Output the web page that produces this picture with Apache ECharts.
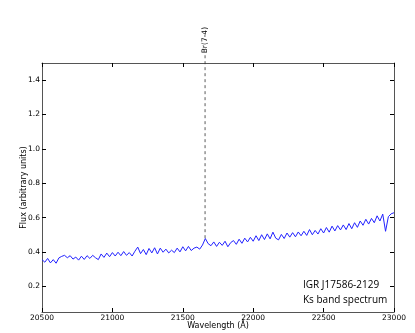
<!DOCTYPE html>
<html>
<head>
<meta charset="utf-8">
<script src="https://cdn.jsdelivr.net/npm/echarts@6/dist/echarts.min.js"></script>
<style>
  html, body { margin: 0; padding: 0; background: #fff; }
  #chart { width: 415px; height: 333px; }
</style>
</head>
<body>
<div id="chart"></div>
<script>
// spectrum (every 20 A)
var wavelength = [
  20500, 20520, 20540, 20560, 20580, 20600, 20620, 20640, 20660, 20680,
  20700, 20720, 20740, 20760, 20780, 20800, 20820, 20840, 20860, 20880,
  20900, 20920, 20940, 20960, 20980, 21000, 21020, 21040, 21060, 21080,
  21100, 21120, 21140, 21160, 21180, 21200, 21220, 21240, 21260, 21280,
  21300, 21320, 21340, 21360, 21380, 21400, 21420, 21440, 21460, 21480,
  21500, 21520, 21540, 21560, 21580, 21600, 21620, 21640, 21660, 21680,
  21700, 21720, 21740, 21760, 21780, 21800, 21820, 21840, 21860, 21880,
  21900, 21920, 21940, 21960, 21980, 22000, 22020, 22040, 22060, 22080,
  22100, 22120, 22140, 22160, 22180, 22200, 22220, 22240, 22260, 22280,
  22300, 22320, 22340, 22360, 22380, 22400, 22420, 22440, 22460, 22480,
  22500, 22520, 22540, 22560, 22580, 22600, 22620, 22640, 22660, 22680,
  22700, 22720, 22740, 22760, 22780, 22800, 22820, 22840, 22860, 22880,
  22900, 22920, 22940, 22960, 22980, 23000
];
var flux = [
  0.355, 0.340, 0.362, 0.336, 0.355, 0.334, 0.365, 0.374, 0.380, 0.366,
  0.378, 0.358, 0.370, 0.352, 0.375, 0.356, 0.378, 0.362, 0.380, 0.366,
  0.355, 0.388, 0.368, 0.393, 0.372, 0.396, 0.376, 0.398, 0.378, 0.402,
  0.380, 0.396, 0.376, 0.404, 0.428, 0.390, 0.414, 0.384, 0.420, 0.394,
  0.424, 0.388, 0.422, 0.398, 0.416, 0.394, 0.410, 0.396, 0.422, 0.400,
  0.430, 0.406, 0.432, 0.408, 0.422, 0.428, 0.416, 0.440, 0.478, 0.448,
  0.436, 0.458, 0.432, 0.456, 0.438, 0.462, 0.430, 0.454, 0.466, 0.444,
  0.474, 0.450, 0.480, 0.458, 0.485, 0.462, 0.494, 0.466, 0.500, 0.472,
  0.505, 0.476, 0.515, 0.480, 0.470, 0.502, 0.478, 0.510, 0.486, 0.512,
  0.488, 0.516, 0.494, 0.520, 0.496, 0.530, 0.500, 0.525, 0.504, 0.535,
  0.510, 0.542, 0.515, 0.550, 0.522, 0.553, 0.528, 0.557, 0.530, 0.565,
  0.535, 0.570, 0.543, 0.580, 0.555, 0.590, 0.562, 0.595, 0.570, 0.610,
  0.580, 0.620, 0.520, 0.605, 0.622, 0.628
];
var yTicks = [0.2, 0.4, 0.6, 0.8, 1.0, 1.2, 1.4];
// Br(7-4) marker: wavelength, and flux from where the dashed line starts to where it stops
var brWave = 21658;
var brFlux = [0.48, 1.545];
var brName = 'Br(7-4)';
var annotation = ['IGR J17586-2129', 'Ks band spectrum'];

var spectrum = [];
for (var i = 0; i < wavelength.length; i++) {
  spectrum.push([wavelength[i], flux[i]]);
}
var brLine = brFlux.map(function (f) { return [brWave, f]; });

var tickFont = { fontFamily: 'DejaVu Sans', fontSize: 7.5, color: '#000' };
var axisLine = { show: true, lineStyle: { color: '#555', width: 1 } };
var tick = { show: true, inside: true, length: 4, lineStyle: { color: '#000' } };

var myChart = echarts.init(document.getElementById('chart'));
myChart.setOption({
  animation: false,
  backgroundColor: '#fff',
  grid: { left: 42, right: 21, top: 63, bottom: 21, containLabel: false, outerBoundsMode: 'none' },
  xAxis: [
    {
      type: 'value', min: 20500, max: 23000, interval: 500,
      name: 'Wavelength (\u00c5)', nameLocation: 'middle', nameGap: 10,
      nameMoveOverlap: false,
      nameTextStyle: { fontFamily: 'DejaVu Sans', fontSize: 8, color: '#000' },
      axisLine: axisLine, axisTick: tick,
      axisLabel: Object.assign({
        margin: 2, showMinLabel: true, showMaxLabel: true,
        formatter: function (v) { return String(v); }
      }, tickFont),
      splitLine: { show: false }
    },
    {
      type: 'value', position: 'top', min: 20500, max: 23000, interval: 500,
      axisLine: axisLine, axisTick: tick, axisLabel: { show: false }, splitLine: { show: false }
    }
  ],
  yAxis: [
    {
      type: 'value', min: 0.05, max: 1.5,
      name: 'Flux (arbitrary units)', nameLocation: 'middle', nameGap: 14,
      nameMoveOverlap: false,
      nameTextStyle: { fontFamily: 'DejaVu Sans', fontSize: 8, color: '#000' },
      axisLine: axisLine,
      axisTick: Object.assign({ customValues: yTicks }, tick),
      axisLabel: Object.assign({
        customValues: yTicks, margin: 2,
        formatter: function (v) { return v.toFixed(1); }
      }, tickFont),
      splitLine: { show: false }
    },
    {
      type: 'value', position: 'right', min: 0.05, max: 1.5,
      axisLine: axisLine,
      axisTick: Object.assign({ customValues: yTicks }, tick),
      axisLabel: { show: false }, splitLine: { show: false }
    }
  ],
  series: [
    {
      type: 'line', data: spectrum, symbol: 'none',
      lineStyle: { color: '#2222ff', width: 1 }
    },
    {
      type: 'line', data: brLine, symbol: 'none', clip: false,
      lineStyle: { color: '#333', width: 0.8, type: [3, 3] }
    }
  ]
});

var brTop = myChart.convertToPixel({ xAxisIndex: 0, yAxisIndex: 0 }, [brWave, brFlux[1]]);
myChart.setOption({
  graphic: [
    {
      type: 'text', x: brTop[0] + 0.5, y: brTop[1] - 2, rotation: Math.PI / 2,
      style: { text: brName, font: '7.5px "DejaVu Sans"', fill: '#000',
               align: 'left', verticalAlign: 'middle' }
    },
    {
      type: 'text', left: 303, top: 280,
      style: { text: annotation[0], font: '10px "Open Sans"', fill: '#000' }
    },
    {
      type: 'text', left: 303, top: 295,
      style: { text: annotation[1], font: '10px "Open Sans"', fill: '#000' }
    }
  ]
});
</script>
</body>
</html>
